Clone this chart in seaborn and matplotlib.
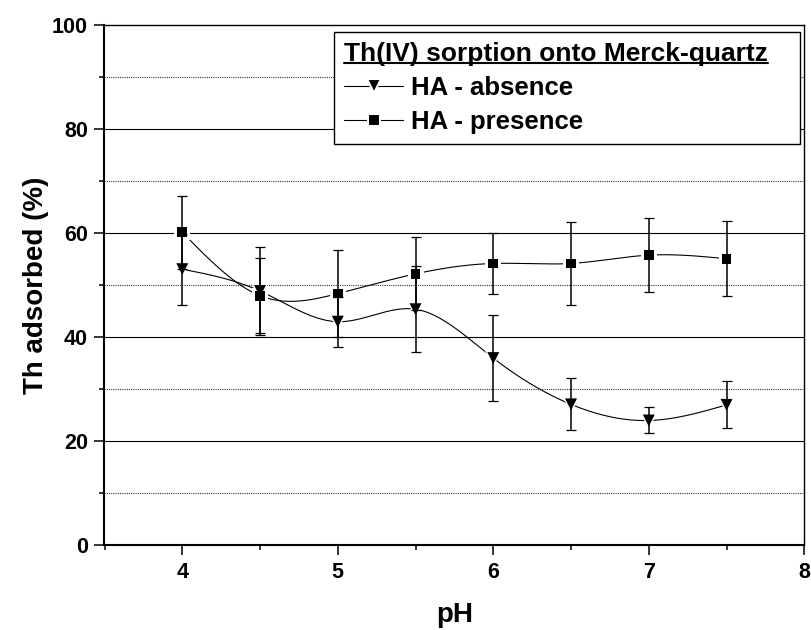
import numpy as np
import pandas as pd
import matplotlib
matplotlib.use("Agg")
import matplotlib.pyplot as plt
from matplotlib.lines import Line2D
from matplotlib.ticker import MultipleLocator
from matplotlib.font_manager import FontProperties
import seaborn as sns

# ---- data ----
pH = [4.0, 4.5, 5.0, 5.5, 6.0, 6.5, 7.0, 7.5]
ha_absence = [53.1, 48.9, 43.0, 45.4, 36.0, 27.1, 24.0, 27.0]
ha_absence_err = [6.8, 8.5, 4.8, 8.3, 8.2, 5.0, 2.5, 4.5]
ha_presence = [60.2, 48.0, 48.4, 52.2, 54.2, 54.2, 55.8, 55.1]
ha_presence_err = [7.0, 7.2, 8.4, 7.0, 5.9, 7.9, 7.1, 7.2]
series_labels = ["HA - absence", "HA - presence"]
legend_title = "Th(IV) sorption onto Merck-quartz"
x_ticks = [4, 5, 6, 7, 8]
y_ticks = [0, 20, 40, 60, 80, 100]

sns.set_theme(style="ticks")
plt.rcParams["font.family"] = ["Liberation Sans", "DejaVu Sans"]
plt.rcParams["font.weight"] = "bold"
plt.rcParams["text.color"] = "black"
plt.rcParams["axes.labelcolor"] = "black"
plt.rcParams["xtick.color"] = "black"
plt.rcParams["ytick.color"] = "black"
plt.rcParams["legend.labelcolor"] = "black"


def natural_spline(x, y, n=300):
    """Smooth connecting curve (natural cubic spline) through the data points."""
    x = np.asarray(x, float)
    y = np.asarray(y, float)
    m = len(x)
    h = np.diff(x)
    A = np.zeros((m, m))
    b = np.zeros(m)
    A[0, 0] = 1
    A[-1, -1] = 1
    for i in range(1, m - 1):
        A[i, i - 1] = h[i - 1]
        A[i, i] = 2 * (h[i - 1] + h[i])
        A[i, i + 1] = h[i]
        b[i] = 6 * ((y[i + 1] - y[i]) / h[i] - (y[i] - y[i - 1]) / h[i - 1])
    M = np.linalg.solve(A, b)
    xs = np.linspace(x[0], x[-1], n)
    idx = np.clip(np.searchsorted(x, xs) - 1, 0, m - 2)
    x0, x1 = x[idx], x[idx + 1]
    hh = x1 - x0
    t0 = x1 - xs
    t1 = xs - x0
    ys = (M[idx] * t0 ** 3 / (6 * hh) + M[idx + 1] * t1 ** 3 / (6 * hh)
          + (y[idx] / hh - M[idx] * hh / 6) * t0
          + (y[idx + 1] / hh - M[idx + 1] * hh / 6) * t1)
    return xs, ys


df = pd.DataFrame({
    "pH": pH * 2,
    "value": ha_absence + ha_presence,
    "err": ha_absence_err + ha_presence_err,
    "series": [series_labels[0]] * len(pH) + [series_labels[1]] * len(pH),
})

fig = plt.figure(figsize=(8.12, 6.3), dpi=100)
ax = fig.add_axes([104.5 / 812, 1 - 545.3 / 630, (804.3 - 104.5) / 812, (545.3 - 25.3) / 630])

markers = {series_labels[0]: "v", series_labels[1]: "s"}
msize = {series_labels[0]: 8.6, series_labels[1]: 7.0}

for lab in series_labels:
    sub = df[df["series"] == lab]
    xs, ys = natural_spline(sub["pH"], sub["value"])
    ax.plot(xs, ys, color="black", lw=0.8, zorder=3)
for lab in series_labels:
    sub = df[df["series"] == lab]
    # white halo making the gaps of the line round the markers
    sns.scatterplot(data=sub, x="pH", y="value", marker=markers[lab],
                    s=(msize[lab] + 4.5) ** 2, color="white", edgecolor="none",
                    ax=ax, zorder=4, legend=False)
for lab in series_labels:
    sub = df[df["series"] == lab]
    ax.errorbar(sub["pH"], sub["value"], yerr=sub["err"], fmt="none",
                ecolor="black", elinewidth=1.1, capsize=3.8, capthick=0.9, zorder=5)
for lab in series_labels:
    sub = df[df["series"] == lab]
    sns.scatterplot(data=sub, x="pH", y="value", marker=markers[lab],
                    s=msize[lab] ** 2, color="black", edgecolor="none",
                    ax=ax, zorder=6, legend=False)

ax.set_xlim(3.5, 8)
ax.set_ylim(0, 100)
ax.set_xticks(x_ticks)
ax.set_yticks(y_ticks)
ax.xaxis.set_minor_locator(MultipleLocator(0.5))
ax.yaxis.set_minor_locator(MultipleLocator(10))

for yv in y_ticks[1:-1]:
    ax.axhline(yv, color="black", lw=0.8, zorder=1)
for yv in np.arange(10, 100, 20):
    ax.axhline(yv, color="#333333", lw=0.8, ls=(0, (1, 1)), zorder=1)

ax.tick_params(axis="both", which="major", direction="out", length=7, width=1.1,
               labelsize=15.5, pad=5, top=False, right=False, colors="black")
ax.tick_params(axis="both", which="minor", direction="out", length=3.8, width=1.1,
               top=False, right=False, colors="black")
for t in ax.get_xticklabels() + ax.get_yticklabels():
    t.set_fontweight("bold")

for side in ["left", "bottom"]:
    ax.spines[side].set_linewidth(1.5)
for side in ["top", "right"]:
    ax.spines[side].set_linewidth(1.0)
for sp in ax.spines.values():
    sp.set_color("black")
    sp.set_visible(True)

ax.set_xlabel("pH", fontsize=20, fontweight="bold", labelpad=14, color="black")
ax.set_ylabel("Th adsorbed (%)", fontsize=20, fontweight="bold", labelpad=2, color="black")

handles = [
    Line2D([], [], color="black", lw=0.8, marker="v", markersize=10,
           markerfacecolor="black", markeredgecolor="white", markeredgewidth=1.5),
    Line2D([], [], color="black", lw=0.8, marker="s", markersize=8,
           markerfacecolor="black", markeredgecolor="white", markeredgewidth=1.5),
]
entry_font = FontProperties(family=["Liberation Sans", "DejaVu Sans"], weight="bold", size=18.5)
title_font = FontProperties(family=["Liberation Sans", "DejaVu Sans"], weight="bold", size=19)
lx0 = (334 - 104.5) / 699.8
lw_ = (800 - 334) / 699.8
ltop = (545.3 - 32) / 520
leg = ax.legend(handles, series_labels, title=legend_title, loc="upper left",
                bbox_to_anchor=(lx0, ltop - 0.2, lw_, 0.2), mode="expand",
                frameon=True, fancybox=False,
                edgecolor="black", framealpha=1, borderpad=0.4, labelspacing=0.38,
                handlelength=2.3, handletextpad=0.3, borderaxespad=0,
                prop=entry_font, title_fontproperties=title_font,
                alignment="left", labelcolor="black")
leg.get_title().set_color("black")
leg.get_frame().set_linewidth(1.0)
leg.set_zorder(10)

# underline the legend title
fig.canvas.draw()
bb = leg.get_title().get_window_extent(fig.canvas.get_renderer())
inv = fig.transFigure.inverted()
(x0, y0), (x1, _) = inv.transform([(bb.x0, bb.y0 + 3), (bb.x1, bb.y0 + 3)])
fig.add_artist(Line2D([x0, x1], [y0, y0], transform=fig.transFigure,
                      color="black", lw=1.5, zorder=11))

fig.savefig("out.png", dpi=100)
